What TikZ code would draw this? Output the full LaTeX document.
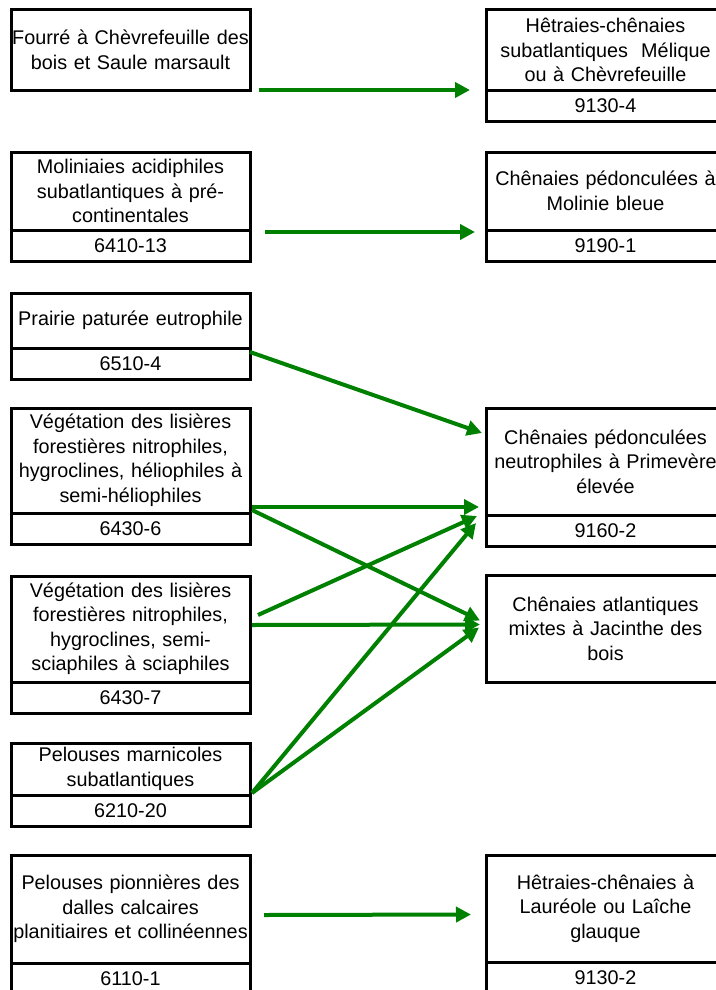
\documentclass[tikz,border=0pt]{standalone}
\usepackage{fontspec}
\setmainfont{Liberation Sans}
\usetikzlibrary{positioning, arrows.meta}
\definecolor{vert}{RGB}{0,128,0}

\begin{document}
\begin{tikzpicture}[x=1pt, y=1pt,
    font=\fontsize{19.8pt}{24.5pt}\selectfont,
    boite/.style={draw, line width=3pt, outer sep=0pt, inner sep=0pt,
      minimum width=239pt, text width=237pt, align=center, anchor=north west},
    numero/.style={draw, line width=3pt, outer sep=0pt, inner sep=0pt,
      minimum width=239pt, minimum height=31pt, text width=237pt, align=center,
      below=0pt of #1},
    lien/.style={vert, line width=4pt, -{Triangle[length=15pt, width=15pt]}}]
  \useasboundingbox (0,0) rectangle (715,-990);

  % habitats de depart
  \node[boite, minimum height=80pt] (fourre) at (11,-10) {Fourré à Chèvrefeuille des\\bois et Saule marsault};
  \node[boite, minimum height=78pt] (molin) at (11,-152) {Moliniaies acidiphiles\\subatlantiques à pré-\\continentales};
  \node[numero=molin] (molin-c) {6410-13};
  \node[boite, minimum height=55pt] (prairie) at (11,-293) {Prairie paturée eutrophile};
  \node[numero=prairie] (prairie-c) {6510-4};
  \node[boite, minimum height=105pt] (lis6) at (11,-408) {Végétation des lisières\\forestières nitrophiles,\\hygroclines, héliophiles à\\semi-héliophiles};
  \node[numero=lis6] (lis6-c) {6430-6};
  \node[boite, minimum height=106pt] (lis7) at (11,-576) {Végétation des lisières\\forestières nitrophiles,\\hygroclines, semi-\\sciaphiles à sciaphiles};
  \node[numero=lis7] (lis7-c) {6430-7};
  \node[boite, minimum height=52pt] (marni) at (11,-743) {Pelouses marnicoles\\subatlantiques};
  \node[numero=marni] (marni-c) {6210-20};
  \node[boite, minimum height=108pt] (pionn) at (11,-855) {Pelouses pionnières des\\dalles calcaires\\planitiaires et collinéennes};
  \node[numero=pionn] (pionn-c) {6110-1};

  % habitats forestiers
  \node[boite, minimum height=80pt] (hetr4) at (486,-10) {Hêtraies-chênaies\\subatlantiques\ \ Mélique\\ou à Chèvrefeuille};
  \node[numero=hetr4] (hetr4-c) {9130-4};
  \node[boite, minimum height=78pt] (chmol) at (486,-152) {Chênaies pédonculées à\\Molinie bleue};
  \node[numero=chmol] (chmol-c) {9190-1};
  \node[boite, minimum height=107pt] (chprim) at (486,-408) {Chênaies pédonculées\\neutrophiles à Primevère\\élevée};
  \node[numero=chprim] (chprim-c) {9160-2};
  \node[boite, minimum height=107pt] (chjac) at (486,-575) {Chênaies atlantiques\\mixtes à Jacinthe des\\bois};
  \node[boite, minimum height=107pt] (hetr2) at (486,-855) {Hêtraies-chênaies à\\Lauréole ou Laîche\\glauque};
  \node[numero=hetr2] (hetr2-c) {9130-2};

  \draw[lien] ([xshift=9pt]fourre.south east) -- ([xshift=-16pt]hetr4.south west);
  \draw[lien] ([shift={(15pt,-2pt)}]molin.south east) -- ([shift={(-11pt,-2pt)}]chmol.south west);
  \draw[lien] ([yshift=-4pt]prairie.south east) -- ([shift={(-4pt,-25pt)}]chprim.north west);
  \draw[lien] ([shift={(2pt,6pt)}]lis6.south east) -- ([shift={(-7pt,8pt)}]chprim.south west);
  \draw[lien] ([shift={(2pt,3pt)}]lis6.south east) -- ([shift={(-6pt,8pt)}]chjac.west);
  \draw[lien] ([shift={(8pt,-39pt)}]lis7.north east) -- ([shift={(-9pt,-1pt)}]chprim.south west);
  \draw[lien] ([shift={(2pt,-49pt)}]lis7.north east) -- ([shift={(-6pt,4pt)}]chjac.west);
  \draw[lien] ([shift={(2pt,2pt)}]marni.south east) -- ([shift={(-10pt,-8pt)}]chprim.south west);
  \draw[lien] ([shift={(2pt,2pt)}]marni.south east) -- ([shift={(-7pt,1pt)}]chjac.west);
  \draw[lien] ([shift={(14pt,-6pt)}]pionn.east) -- ([shift={(-15pt,-6pt)}]hetr2.west);
\end{tikzpicture}
\end{document}
